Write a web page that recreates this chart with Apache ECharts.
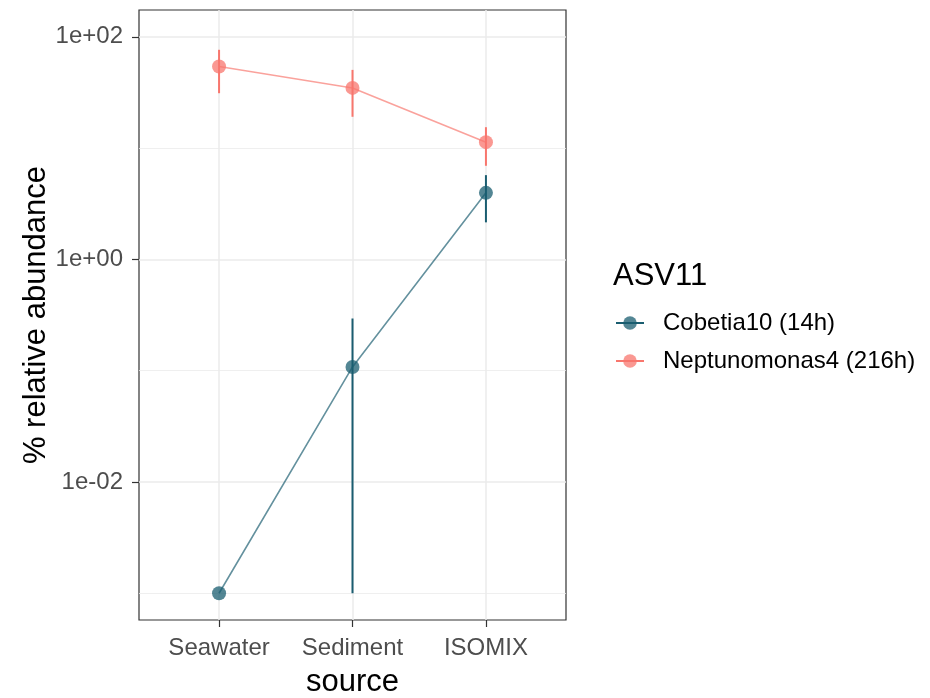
<!DOCTYPE html>
<html>
<head>
<meta charset="utf-8">
<script src="https://cdn.jsdelivr.net/npm/echarts@6/dist/echarts.min.js"></script>
<style>
  html, body { margin: 0; padding: 0; background: #fff; }
  #chart { width: 930px; height: 698px; }
</style>
</head>
<body>
<div id="chart"></div>
<script>
// Sample sources along the x axis (drawn at positions 1, 2, 3)
const sources = ['Seawater', 'Sediment', 'ISOMIX'];

// Mean % relative abundance per source, with lower / upper range
const cobetiaName = 'Cobetia10 (14h)';
const cobetiaMean = [0.001, 0.108, 3.96];
const cobetiaLow  = [0.001, 0.001, 2.15];
const cobetiaHigh = [0.001, 0.294, 5.71];

const neptuName = 'Neptunomonas4 (216h)';
const neptuMean = [54.0, 34.7, 11.3];
const neptuLow  = [31.1, 19.1, 6.93];
const neptuHigh = [76.4, 50.4, 15.4];

// Tick values for the log axis
const yMajorTicks = [0.01, 1, 100];
const yMinorTicks = [0.001, 0.1, 10];

const COB = '#1a5d70';
const NEP = '#f8766d';
const FONT = '"Liberation Sans", Arial, sans-serif';

function pointData(mean) {
  return mean.map((v, i) => [i + 1, v]);
}
function rangeData(low, high) {
  return low.map((v, i) => [i + 1, v, high[i]]);
}
function rangeItem(color) {
  return function (params, api) {
    const x = api.value(0);
    const p0 = api.coord([x, api.value(1)]);
    const p1 = api.coord([x, api.value(2)]);
    return {
      type: 'line',
      shape: { x1: p0[0], y1: p0[1], x2: p1[0], y2: p1[1] },
      style: { stroke: color, lineWidth: 2 }
    };
  };
}
function sciLabel(v) {
  const e = Math.round(Math.log10(v));
  const s = e < 0 ? '-' : '+';
  const a = Math.abs(e);
  return '1e' + s + (a < 10 ? '0' + a : a);
}

const yMin = Math.pow(10, -3.2405);
const yMax = Math.pow(10, 2.2405);

const chart = echarts.init(document.getElementById('chart'), null, { renderer: 'canvas' });
chart.setOption({
  backgroundColor: '#ffffff',
  animation: false,
  textStyle: { fontFamily: FONT },
  title: {
    text: 'ASV11',
    left: 608,
    top: 256,
    textStyle: { fontFamily: FONT, fontSize: 31, fontWeight: 'normal', color: '#000' }
  },
  legend: {
    orient: 'vertical',
    left: 610,
    top: 306,
    itemWidth: 28,
    itemHeight: 17,
    itemGap: 14,
    textStyle: { fontFamily: FONT, fontSize: 24, color: '#000', padding: [0, 0, 0, 14] },
    data: [
      { name: cobetiaName,
        itemStyle: { color: 'rgba(26,93,112,0.75)' },
        lineStyle: { color: COB, width: 2 } },
      { name: neptuName,
        itemStyle: { color: 'rgba(248,118,109,0.75)' },
        lineStyle: { color: NEP, width: 2 } }
    ]
  },
  grid: {
    left: 139, right: 364, top: 10, bottom: 78,
    outerBoundsMode: 'none',
    containLabel: false,
    show: true, borderColor: '#333333', borderWidth: 1.2, backgroundColor: 'transparent'
  },
  xAxis: {
    type: 'value',
    min: 0.4,
    max: 3.6,
    name: 'source',
    nameLocation: 'middle',
    nameGap: 47,
    nameTextStyle: { fontFamily: FONT, fontSize: 31, color: '#000' },
    axisLine: { show: false },
    axisTick: { show: true, length: 7, customValues: [1, 2, 3],
      lineStyle: { color: '#333333', width: 1.2 } },
    axisLabel: { customValues: [1, 2, 3], margin: 16, fontSize: 24, color: '#4d4d4d',
      fontFamily: FONT,
      formatter: v => sources[Math.round(v) - 1] || '' },
    splitLine: { show: true, lineStyle: { color: '#ebebeb', width: 1.5 } }
  },
  yAxis: [
    {
      type: 'log',
      logBase: 10,
      min: yMin,
      max: yMax,
      name: '% relative abundance',
      nameLocation: 'middle',
      nameGap: 87,
      nameTextStyle: { fontFamily: FONT, fontSize: 31, color: '#000' },
      axisLine: { show: false },
      axisTick: { show: true, length: 7, customValues: yMajorTicks,
        lineStyle: { color: '#333333', width: 1.2 } },
      axisLabel: { customValues: yMajorTicks, margin: 16, fontSize: 24, color: '#4d4d4d',
        fontFamily: FONT, formatter: v => sciLabel(v) },
      splitLine: { show: true, lineStyle: { color: '#ebebeb', width: 1.5 } }
    },
    {
      type: 'log',
      logBase: 10,
      min: yMin,
      max: yMax,
      position: 'left',
      axisLine: { show: false },
      axisTick: { show: false, customValues: yMinorTicks },
      axisLabel: { show: false, customValues: yMinorTicks },
      splitLine: { show: true, lineStyle: { color: '#ebebeb', width: 0.8 } }
    }
  ],
  series: [
    {
      name: cobetiaName,
      type: 'line',
      data: pointData(cobetiaMean),
      symbol: 'circle',
      symbolSize: 14,
      z: 3,
      itemStyle: { color: 'rgba(26,93,112,0.75)' },
      lineStyle: { color: 'rgba(26,93,112,0.68)', width: 1.6 }
    },
    {
      name: neptuName,
      type: 'line',
      data: pointData(neptuMean),
      symbol: 'circle',
      symbolSize: 14,
      z: 3,
      itemStyle: { color: 'rgba(248,118,109,0.75)' },
      lineStyle: { color: 'rgba(248,118,109,0.68)', width: 1.6 }
    },
    {
      name: cobetiaName,
      type: 'custom',
      z: 2,
      data: rangeData(cobetiaLow, cobetiaHigh),
      encode: { x: 0, y: [1, 2] },
      renderItem: rangeItem(COB)
    },
    {
      name: neptuName,
      type: 'custom',
      z: 2,
      data: rangeData(neptuLow, neptuHigh),
      encode: { x: 0, y: [1, 2] },
      renderItem: rangeItem(NEP)
    }
  ]
});
</script>
</body>
</html>
